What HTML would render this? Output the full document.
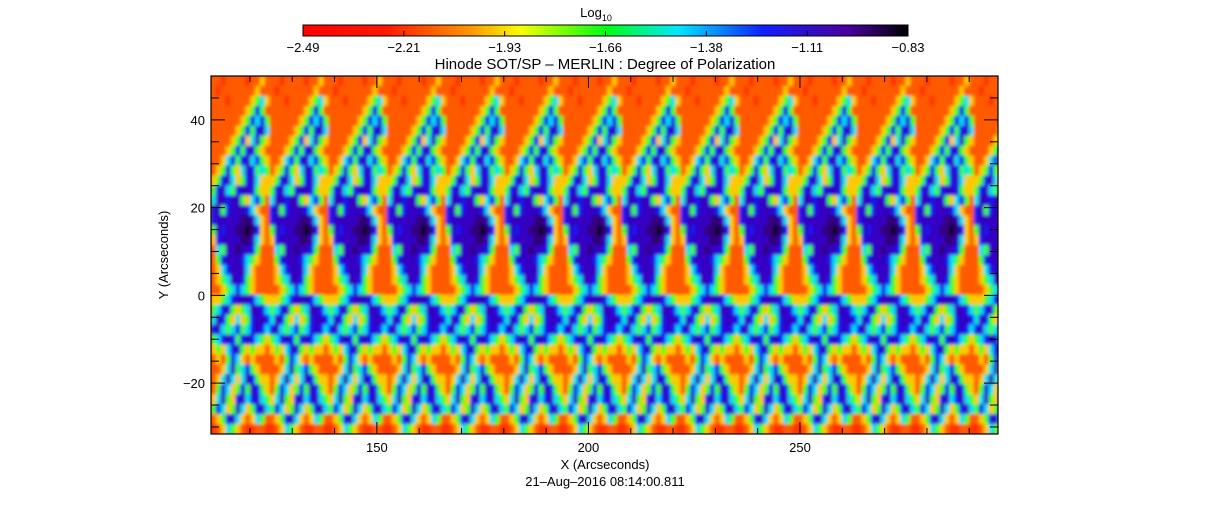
<!DOCTYPE html>
<html><head><meta charset="utf-8"><style>
html,body{margin:0;padding:0;background:#fff;}
svg{display:block;font-family:"Liberation Sans","DejaVu Sans",sans-serif;}
</style></head><body>
<svg id="chart" width="1210" height="512" viewBox="0 0 1210 512">
<defs>
<linearGradient id="cbgrad" x1="0" x2="1" y1="0" y2="0">
<stop offset="0" stop-color="#ff0000"/><stop offset="0.14" stop-color="#ff1a00"/>
<stop offset="0.28" stop-color="#ff9a00"/><stop offset="0.36" stop-color="#f6ff00"/>
<stop offset="0.5" stop-color="#00ff10"/><stop offset="0.62" stop-color="#00e8ff"/>
<stop offset="0.76" stop-color="#1020ff"/><stop offset="0.9" stop-color="#4a00a0"/>
<stop offset="1" stop-color="#000000"/></linearGradient>
<clipPath id="plotclip"><rect x="211" y="76" width="787" height="358"/></clipPath>
<filter id="soft" x="0" y="0" width="1" height="1"><feGaussianBlur stdDeviation="1.6"/></filter>
</defs>
<rect x="303" y="25" width="605" height="11" fill="url(#cbgrad)" stroke="#000" stroke-width="1"/>
<text x="596" y="17" font-size="13" text-anchor="middle">Log<tspan font-size="9" dy="4">10</tspan></text>
<g id="cbticks"></g>
<text x="605" y="69" font-size="15" text-anchor="middle">Hinode SOT/SP – MERLIN : Degree of Polarization</text>
<g clip-path="url(#plotclip)"><rect x="211" y="76" width="787" height="358" fill="#ff4a00"/><g id="heat" filter="url(#soft)"></g></g>
<rect x="211" y="76" width="787" height="358" fill="none" stroke="#000" stroke-width="1.2"/>
<g id="axes"></g>
<text x="605" y="469" font-size="13" text-anchor="middle">X (Arcseconds)</text>
<text x="605" y="486" font-size="13" text-anchor="middle">21–Aug–2016 08:14:00.811</text>
<text transform="translate(168,255) rotate(-90)" font-size="13" text-anchor="middle">Y (Arcseconds)</text>
</svg>
<script>
const cbLabels = ["−2.49","−2.21","−1.93","−1.66","−1.38","−1.11","−0.83"];
const xTicks = [150,200,250];
const yTicks = [-20,0,20,40];
const xDomain = [110.8,296.8];
const yDomain = [-31.6,50];
const panelWidthArcsec = 13.87;
const levelColors = ["#ff1000","#ff3000","#ff5a00","#ffc800","#40ff20","#00e0f0","#1414f0","#3400c4","#300078","#100014"];
const panelRows = [
"221222212232","212222222322","222122223453","222222234642","222222346564","222223464675",
"222234635743","222346467432","223564675643","234643576454","346753467533","467546776433",
"577677435642","674677765322","677777887532","476778898632","367777887532","254778776422",
"246777654322","235677753222","234577643222","223456543222","334567776543","456743457765",
"576435346776","675456456765","456764676543","343567434332","232465323222","223574564322",
"235753576433","246534647643","357436756754","465347534675","234675323542","123543211221"];
const NS="http://www.w3.org/2000/svg";
const X0=211,X1=998,Y0=76,Y1=434;
function xs(v){return X0+(v-xDomain[0])/(xDomain[1]-xDomain[0])*(X1-X0);}
function ys(v){return Y1-(v-yDomain[0])/(yDomain[1]-yDomain[0])*(Y1-Y0);}
const heat=document.getElementById('heat');
const nPanels=Math.ceil((xDomain[1]-xDomain[0])/panelWidthArcsec);
const nr=panelRows.length, nc=panelRows[0].length;
const cellH=(Y1-Y0)/nr;
for(let p=0;p<nPanels;p++){
  const px0=xs(xDomain[0]+p*panelWidthArcsec), px1=xs(xDomain[0]+(p+1)*panelWidthArcsec);
  const cw=(px1-px0)/nc;
  for(let r=0;r<nr;r++){
    for(let c=0;c<nc;c++){
      const v=+panelRows[r][c];
      const el=document.createElementNS(NS,'rect');
      el.setAttribute('x',px0+c*cw);el.setAttribute('y',Y0+r*cellH);
      el.setAttribute('width',cw+0.6);el.setAttribute('height',cellH+0.6);
      el.setAttribute('fill',levelColors[v]);
      
      
      heat.appendChild(el);
    }
  }
}
const axes=document.getElementById('axes');
function line(x1,y1,x2,y2){const l=document.createElementNS(NS,'line');l.setAttribute('x1',x1);l.setAttribute('y1',y1);l.setAttribute('x2',x2);l.setAttribute('y2',y2);l.setAttribute('stroke','#000');l.setAttribute('stroke-width','1');


axes.appendChild(l);}
function txt(x,y,s,anchor,parent,name){const t=document.createElementNS(NS,'text');t.setAttribute('x',x);t.setAttribute('y',y);t.setAttribute('font-size','13');t.setAttribute('text-anchor',anchor);t.textContent=s;


parent.appendChild(t);}
for(let v=120;v<=290;v+=10){const x=xs(v);const major=xTicks.includes(v);const L=major?12:6;line(x,Y1,x,Y1-L);line(x,Y0,x,Y0+L);}
xTicks.forEach(v=>txt(xs(v),452,String(v),'middle',axes,'x-tick-label'));
for(let v=-30;v<=50;v+=5){const y=ys(v);if(y<Y0||y>Y1)continue;const major=yTicks.includes(v);const L=major?14:8;line(X0,y,X0+L,y);line(X1,y,X1-L,y);}
yTicks.forEach(v=>txt(205,ys(v)+5,String(v).replace('-','−'),'end',axes,'y-tick-label'));
const cb=document.getElementById('cbticks');
cbLabels.forEach((s,i)=>{const x=303+i*605/(cbLabels.length-1);
const l=document.createElementNS(NS,'line');l.setAttribute('x1',x);l.setAttribute('x2',x);l.setAttribute('y1',31);l.setAttribute('y2',36);l.setAttribute('stroke','#000');


cb.appendChild(l);
txt(x,52,s,'middle',cb,'colorbar-tick-label');});
</script>
</body></html>
